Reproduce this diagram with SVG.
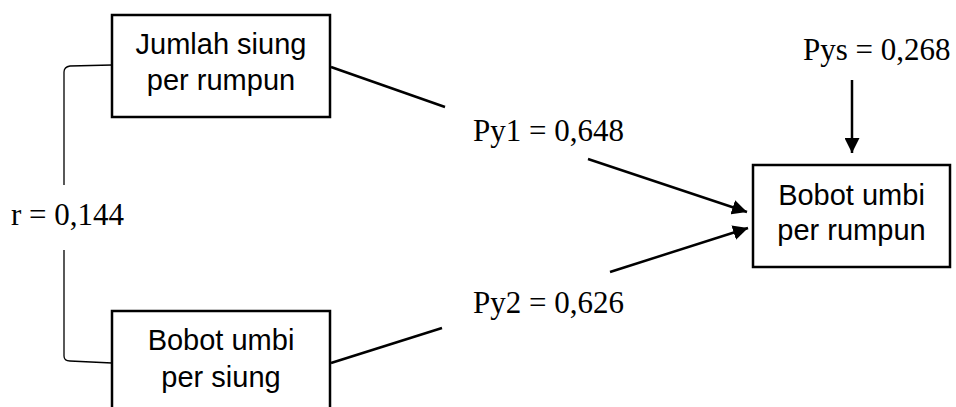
<svg xmlns="http://www.w3.org/2000/svg" width="956" height="407" viewBox="0 0 956 407">
<defs>
<style>
.box{fill:#fff;stroke:#000;stroke-width:2.5}
.sans{font-family:"Liberation Sans",Arial,sans-serif;font-size:29px;fill:#000;text-anchor:middle}
.serif{font-family:"Liberation Serif",serif;font-size:31px;fill:#000}
.ln{stroke:#000;stroke-width:2.5;fill:none}
.br{stroke:#000;stroke-width:1.3;fill:none}
</style>
<marker id="ah" viewBox="0 0 10 10" refX="10" refY="5" markerWidth="6" markerHeight="6" markerUnits="strokeWidth" orient="auto">
<path d="M0,0 L10,5 L0,10 z" fill="#000"/>
</marker>
</defs>
<rect width="956" height="407" fill="#fff"/>
<g id="connectors">
<path class="br" d="M112,65 L70,66 Q64,67 64,72 L64,185"/>
<path class="br" d="M64,250 L64,356 Q64,361 70,361 L112,363"/>
<line class="ln" x1="331" y1="67" x2="445" y2="107"/>
<line class="ln" x1="588" y1="159" x2="747" y2="212" marker-end="url(#ah)"/>
<line class="ln" x1="331" y1="363" x2="442" y2="328"/>
<line class="ln" x1="610" y1="272" x2="748" y2="228" marker-end="url(#ah)"/>
<line class="ln" x1="852" y1="80" x2="852" y2="153" marker-end="url(#ah)"/>
</g>
<g id="node-jumlah">
<rect class="box" x="112" y="15" width="218" height="102"/>
<text class="sans" x="221" y="54">Jumlah siung</text>
<text class="sans" x="221" y="90">per rumpun</text>
</g>
<g id="node-bobot-siung">
<rect class="box" x="112" y="311" width="218" height="110"/>
<text class="sans" x="221" y="350">Bobot umbi</text>
<text class="sans" x="221" y="387">per siung</text>
</g>
<g id="node-bobot-rumpun">
<rect class="box" x="753" y="165" width="197" height="102"/>
<text class="sans" x="851.5" y="205">Bobot umbi</text>
<text class="sans" x="851.5" y="240">per rumpun</text>
</g>
<g id="labels">
<text class="serif" x="11" y="225">r = 0,144</text>
<text class="serif" x="473" y="141">Py1 = 0,648</text>
<text class="serif" x="473" y="313">Py2 = 0,626</text>
<text class="serif" x="803" y="60">Pys = 0,268</text>
</g>
</svg>
